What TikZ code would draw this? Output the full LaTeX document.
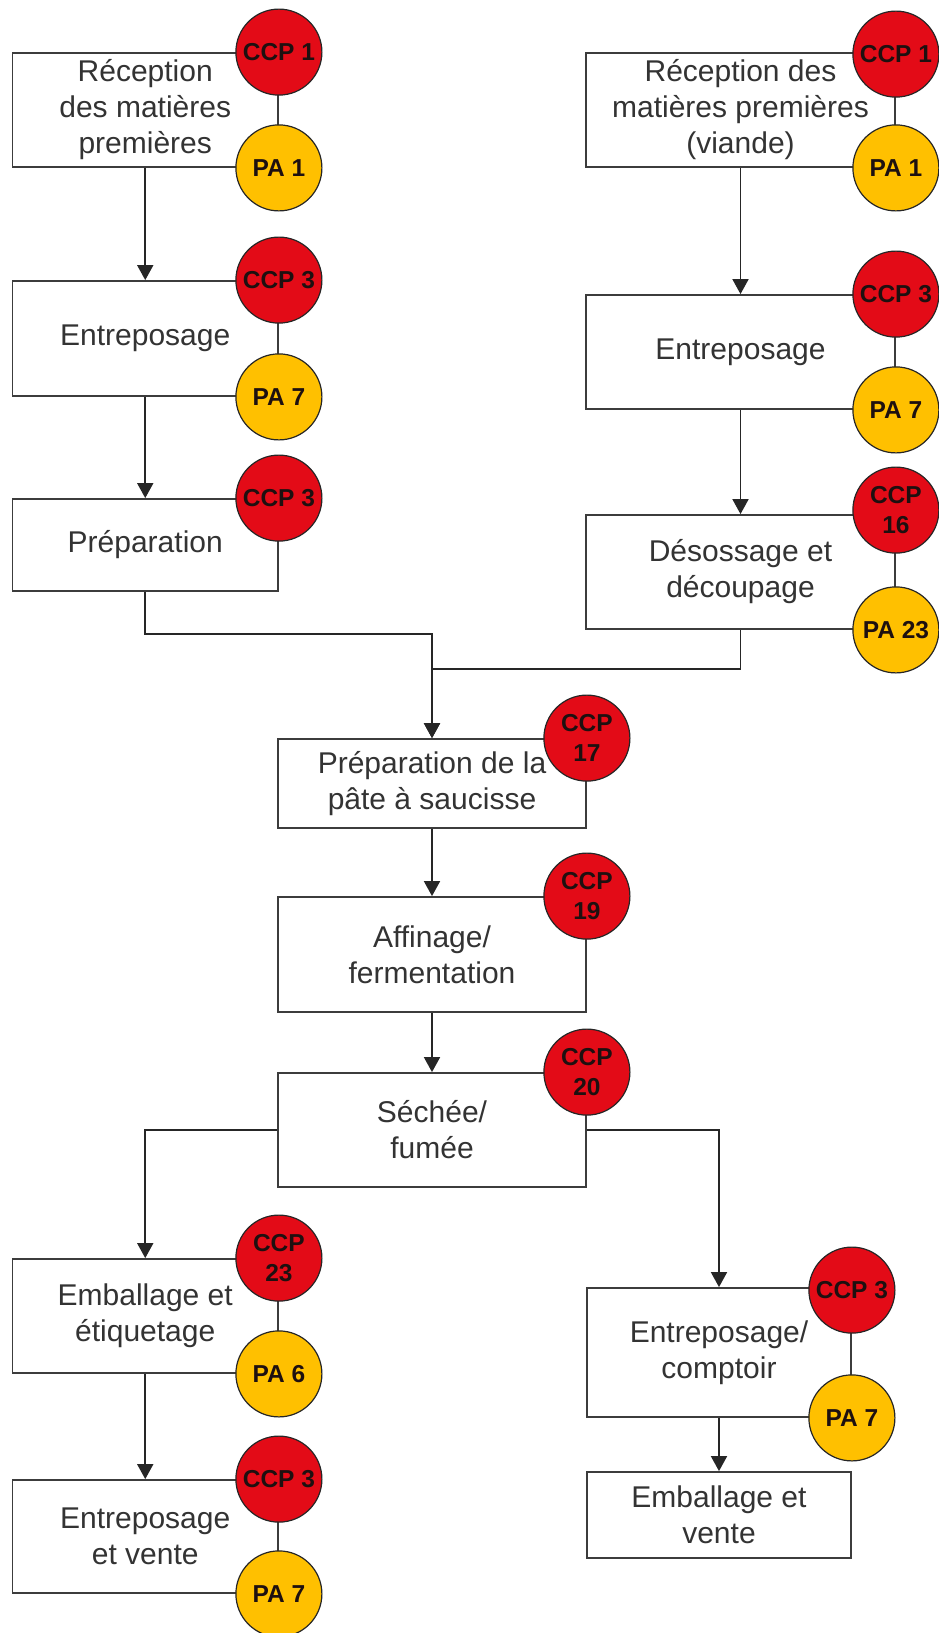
\documentclass[tikz,border=0pt]{standalone}
\usepackage{fontspec}
\setmainfont{Liberation Sans}
\usetikzlibrary{arrows.meta}
\definecolor{ccpred}{HTML}{E30B17}
\definecolor{payel}{HTML}{FFC000}
\definecolor{boxline}{HTML}{3C3C3C}
\definecolor{boxtext}{HTML}{333333}
\definecolor{circtext}{HTML}{1E1010}
\begin{document}
\begin{tikzpicture}[x=1pt,y=-1pt,
  stepbox/.style={draw=boxline, line width=1.8pt, fill=white, align=center,
    text=boxtext, inner sep=0pt, font=\fontsize{30}{36}\selectfont},
  ccp/.style={circle, draw=black!85, line width=1.2pt, fill=ccpred, minimum size=86pt,
    inner sep=0pt, align=center, text=circtext, font=\bfseries\fontsize{24.5}{30}\selectfont},
  pa/.style={ccp, fill=payel},
  arr/.style={draw=black!85, line width=1.8pt, -{Triangle[length=15pt,width=16pt]}},
  lin/.style={draw=boxline, line width=1.8pt}]
\useasboundingbox (0,0) rectangle (938,1633);
% left column
\node[stepbox, minimum width=265.5pt, minimum height=114pt] (L1) at (145.25,110) {Réception\\des matières\\premières};
\node[stepbox, minimum width=265.5pt, minimum height=115pt] (L2) at (145.25,338.5) {Entreposage};
\node[stepbox, minimum width=265.5pt, minimum height=92pt] (L3) at (145.25,545) {Préparation};
% right column
\node[stepbox, minimum width=309pt, minimum height=114pt] (R1) at (740.5,110) {Réception des\\matières premières\\(viande)};
\node[stepbox, minimum width=309pt, minimum height=114pt] (R2) at (740.5,352) {Entreposage};
\node[stepbox, minimum width=309pt, minimum height=114pt] (R3) at (740.5,572) {Désossage et\\découpage};
% center
\node[stepbox, minimum width=308pt, minimum height=89pt] (C1) at (432,783.5) {Préparation de la\\pâte à saucisse};
\node[stepbox, minimum width=308pt, minimum height=115pt] (C2) at (432,954.5) {Affinage/\\fermentation};
\node[stepbox, minimum width=308pt, minimum height=114pt] (C3) at (432,1130) {Séchée/\\fumée};
% bottom
\node[stepbox, minimum width=265.5pt, minimum height=114pt] (L4) at (145.25,1316) {Emballage et\\étiquetage};
\node[stepbox, minimum width=265.5pt, minimum height=113pt] (L5) at (145.25,1536.5) {Entreposage\\et vente};
\node[stepbox, minimum width=264pt, minimum height=129pt] (R4) at (719,1352.5) {Entreposage/\\comptoir};
\node[stepbox, minimum width=264pt, minimum height=86pt] (R5) at (719,1515) {Emballage et\\vente};
% connectors
\draw[arr] (L1.south) -- (L2.north);
\draw[arr] (L2.south) -- (L3.north);
\draw[arr] (R1.south) -- (R2.north);
\draw[arr] (R2.south) -- (R3.north);
\draw[arr] (L3.south) -- ++(0,42) -| (C1.north);
\draw[arr] (R3.south) -- ++(0,39) -| (C1.north);
\draw[arr] (C1.south) -- (C2.north);
\draw[arr] (C2.south) -- (C3.north);
\draw[arr] (C3.west) -| (L4.north);
\draw[arr] (C3.east) -| (R4.north);
\draw[arr] (L4.south) -- (L5.north);
\draw[arr] (R4.south) -- (R5.north);
% circles
\node[ccp] (L1c) at (L1.north east) {CCP 1};
\node[pa]  (L1p) at (L1.south east) {PA 1};
\node[ccp] (L2c) at (L2.north east) {CCP 3};
\node[pa]  (L2p) at (L2.south east) {PA 7};
\node[ccp] (L3c) at (L3.north east) {CCP 3};
\node[ccp] (R1c) at ([yshift=-2pt]R1.north east) {CCP 1};
\node[pa]  (R1p) at (R1.south east) {PA 1};
\node[ccp] (R2c) at (R2.north east) {CCP 3};
\node[pa]  (R2p) at (R2.south east) {PA 7};
\node[ccp] (R3c) at ([yshift=4pt]R3.north east) {CCP\\16};
\node[pa]  (R3p) at (R3.south east) {PA 23};
\node[ccp] (C1c) at (C1.north east) {CCP\\17};
\node[ccp] (C2c) at (C2.north east) {CCP\\19};
\node[ccp] (C3c) at (C3.north east) {CCP\\20};
\node[ccp] (L4c) at (L4.north east) {CCP\\23};
\node[pa]  (L4p) at (L4.south east) {PA 6};
\node[ccp] (L5c) at (L5.north east) {CCP 3};
\node[pa]  (L5p) at (L5.south east) {PA 7};
\node[ccp] (R4c) at ([yshift=-3pt]R4.north east) {CCP 3};
\node[pa]  (R4p) at (R4.south east) {PA 7};
\end{tikzpicture}
\end{document}
